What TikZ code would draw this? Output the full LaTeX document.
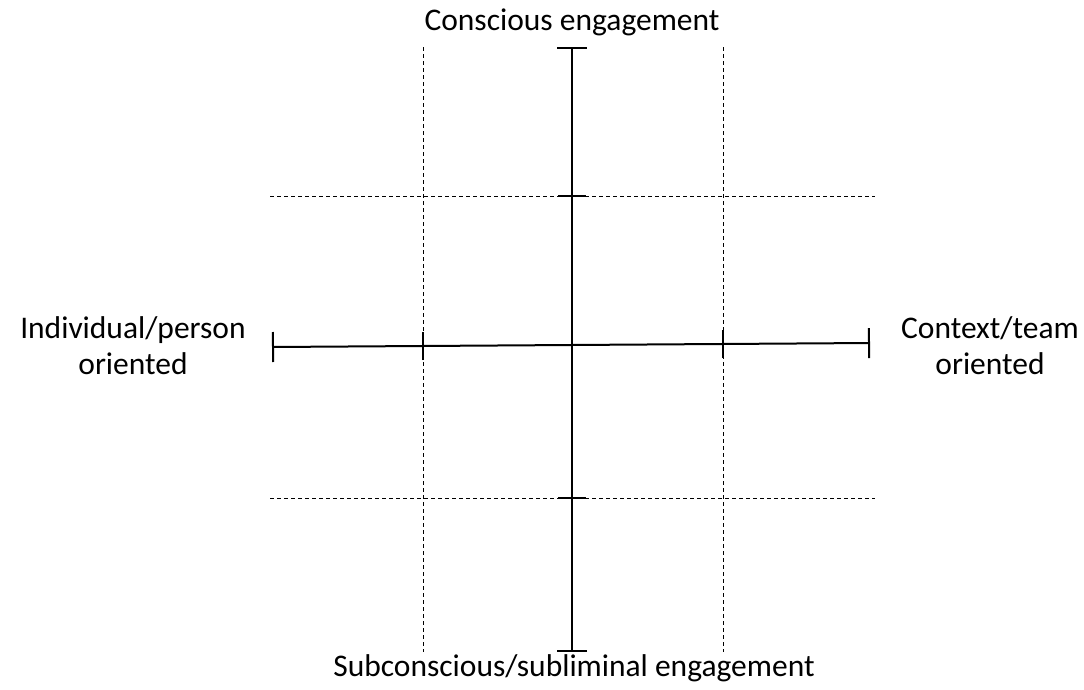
\documentclass[tikz,border=0pt]{standalone}
\usepackage{fontspec}
\setmainfont{Carlito}
\usetikzlibrary{arrows.meta}
\begin{document}
\begin{tikzpicture}[x=1pt,y=-1pt,
  axisline/.style={line width=2pt, {Bar[width=30pt,line width=2pt]}-{Bar[width=30pt,line width=2pt]}},
  gridline/.style={line width=0.8pt, dash pattern=on 4pt off 3pt},
  tickmark/.style={line width=1.6pt},
  lbl/.style={font=\fontsize{31.5}{36}\selectfont, align=center, inner sep=0pt}]
\useasboundingbox (0,0) rectangle (1084,689);
% coordinates
\coordinate (vtop) at (572,47);
\coordinate (vbot) at (572,652);
\coordinate (hleft) at (272,347);
\coordinate (hright) at (870,343);
\coordinate (gl1) at (270,196);
\coordinate (gr1) at (875,196);
\coordinate (gl2) at (270,498);
\coordinate (gr2) at (875,498);
\coordinate (gt1) at (423,47);
\coordinate (gb1) at (423,652);
\coordinate (gt2) at (723,47);
\coordinate (gb2) at (723,652);
% dashed grid
\draw[gridline] (gl1) -- (gr1);
\draw[gridline] (gl2) -- (gr2);
\draw[gridline] (gt1) -- (gb1);
\draw[gridline] (gt2) -- (gb2);
% axes
\draw[axisline] (vtop) -- (vbot);
\draw[axisline] (hleft) -- (hright);
% ticks
\coordinate (tv1) at (572,196);
\coordinate (tv2) at (572,498);
\coordinate (th1) at (423,346);
\coordinate (th2) at (723,344);
\draw[tickmark] ([xshift=-14pt]tv1) -- ([xshift=14pt]tv1);
\draw[tickmark] ([xshift=-14pt]tv2) -- ([xshift=14pt]tv2);
\draw[tickmark] ([yshift=-14pt]th1) -- ([yshift=14pt]th1);
\draw[tickmark] ([yshift=-14pt]th2) -- ([yshift=14pt]th2);
% labels
\node[lbl] (top) at (572,22) {Conscious engagement};
\node[lbl] (bot) at (574,668) {Subconscious/subliminal engagement};
\node[lbl] (left) at (133,346) {Individual/person\\oriented};
\node[lbl] (right) at (990,346) {Context/team\\oriented};
\end{tikzpicture}
\end{document}
